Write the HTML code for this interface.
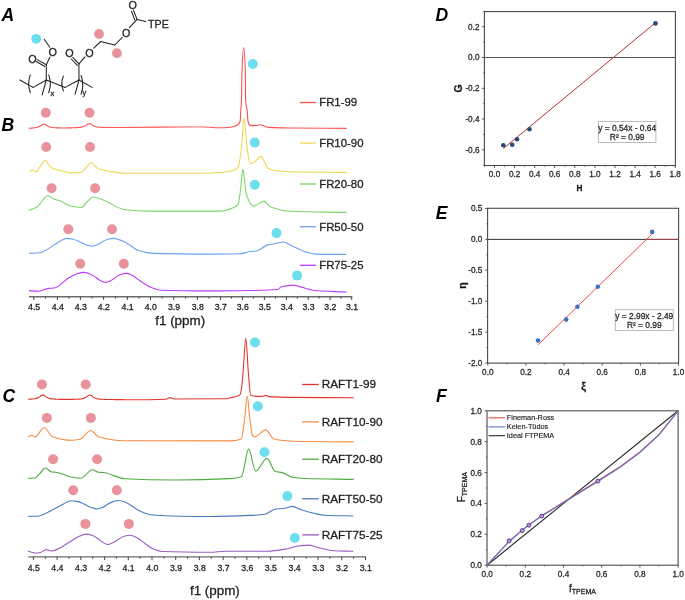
<!DOCTYPE html>
<html><head><meta charset="utf-8"><style>
html,body{margin:0;padding:0;background:#fff;width:685px;height:600px;overflow:hidden}
svg{display:block;will-change:transform}
text{font-family:"Liberation Sans", sans-serif;stroke:#222;stroke-width:0.28px}
text.nb{stroke:none}
</style></head><body>
<svg width="685" height="600" viewBox="0 0 685 600">
<rect width="685" height="600" fill="#fff"/>
<path d="M28.70,128.30 C29.20,128.27 29.70,128.25 30.20,128.22 C30.70,128.19 31.20,128.16 31.70,128.12 C32.20,128.08 32.70,128.04 33.20,127.99 C33.70,127.94 34.20,127.88 34.70,127.81 C35.20,127.74 35.70,127.66 36.20,127.56 C36.70,127.46 37.20,127.33 37.70,127.18 C38.20,127.03 38.70,126.84 39.20,126.61 C39.70,126.38 40.20,126.08 40.70,125.76 C41.20,125.44 41.70,124.97 42.20,124.69 C42.70,124.41 43.20,124.01 43.70,124.01 C44.20,124.01 44.70,124.21 45.20,124.40 C45.70,124.59 46.20,125.09 46.70,125.41 C47.20,125.73 47.70,126.06 48.20,126.30 C48.70,126.54 49.20,126.75 49.70,126.91 C50.20,127.07 50.70,127.19 51.20,127.29 C51.70,127.39 52.20,127.47 52.70,127.53 C53.20,127.59 53.70,127.65 54.20,127.69 C54.70,127.73 55.20,127.76 55.70,127.79 C56.20,127.82 56.70,127.84 57.20,127.86 C57.70,127.88 58.20,127.89 58.70,127.90 C59.20,127.91 59.70,127.91 60.20,127.92 C60.70,127.93 61.20,127.94 61.70,127.94 C62.20,127.94 62.70,127.94 63.20,127.94 C63.70,127.94 64.20,127.94 64.70,127.94 C65.20,127.94 65.70,127.93 66.20,127.93 C66.70,127.93 67.20,127.92 67.70,127.91 C68.20,127.90 68.70,127.89 69.20,127.88 C69.70,127.87 70.20,127.86 70.70,127.85 C71.20,127.84 71.70,127.82 72.20,127.81 C72.70,127.80 73.20,127.78 73.70,127.76 C74.20,127.74 74.70,127.72 75.20,127.70 C75.70,127.68 76.20,127.65 76.70,127.62 C77.20,127.59 77.70,127.55 78.20,127.51 C78.70,127.47 79.20,127.42 79.70,127.36 C80.20,127.30 80.70,127.23 81.20,127.15 C81.70,127.07 82.20,126.96 82.70,126.83 C83.20,126.70 83.70,126.54 84.20,126.35 C84.70,126.16 85.20,125.90 85.70,125.62 C86.20,125.34 86.70,124.94 87.20,124.62 C87.70,124.30 88.20,123.72 88.70,123.68 C89.20,123.64 89.70,123.62 90.20,123.62 C90.70,123.62 91.20,124.19 91.70,124.50 C92.20,124.81 92.70,125.21 93.20,125.49 C93.70,125.77 94.20,126.02 94.70,126.21 C95.20,126.40 95.70,126.56 96.20,126.68 C96.70,126.80 97.20,126.89 97.70,126.97 C98.20,127.05 98.70,127.12 99.20,127.17 C99.70,127.22 100.20,127.26 100.70,127.29 C101.20,127.32 101.70,127.36 102.20,127.38 C102.70,127.40 103.20,127.42 103.70,127.44 C104.20,127.46 104.70,127.47 105.20,127.48 C105.70,127.49 106.20,127.49 106.70,127.50 C107.20,127.51 107.70,127.52 108.20,127.52 C108.70,127.52 109.20,127.53 109.70,127.53 C110.20,127.53 110.70,127.54 111.20,127.54 C111.70,127.54 112.20,127.54 112.70,127.54 C113.20,127.54 113.70,127.54 114.20,127.54 C114.70,127.54 115.20,127.53 115.70,127.53 C116.20,127.53 116.70,127.53 117.20,127.53 C117.70,127.53 118.20,127.52 118.70,127.52 C120.80,127.51 122.90,127.51 125.00,127.50 C150.00,127.40 175.00,126.80 200.00,126.80 C206.67,126.80 213.33,127.80 220.00,127.80 C223.33,127.80 226.67,127.59 230.00,127.30 C232.50,127.08 235.00,126.48 237.50,125.10 C238.40,124.60 239.30,124.08 240.20,121.00 C240.40,120.32 240.60,113.22 240.80,110.00 C241.03,106.24 241.27,105.75 241.50,100.00 C241.63,96.71 241.77,78.89 241.90,75.00 C242.47,58.47 243.03,47.60 243.60,47.60 C244.20,47.60 244.80,54.42 245.40,75.00 C245.47,77.29 245.53,98.91 245.60,100.00 C246.10,108.21 246.60,105.58 247.10,110.00 C247.40,112.65 247.70,119.75 248.00,121.00 C248.60,123.49 249.20,124.97 249.80,125.10 C251.53,125.48 253.27,125.60 255.00,125.60 C256.93,125.60 258.87,124.80 260.80,124.80 C261.87,124.80 262.93,125.65 264.00,126.00 C265.67,126.54 267.33,127.30 269.00,127.40 C276.00,127.84 283.00,127.91 290.00,128.00 C308.90,128.24 327.80,128.27 346.70,128.40" fill="none" stroke="#ff5050" stroke-width="1.1" stroke-linejoin="round"/>
<path d="M29.20,171.70 C30.30,171.13 31.40,170.00 32.50,170.00 C33.60,170.00 34.70,171.70 35.80,171.70 C37.20,171.70 38.60,168.66 40.00,167.00 C41.77,164.91 43.53,160.30 45.30,160.30 C46.53,160.30 47.77,163.67 49.00,165.00 C50.17,166.26 51.33,167.74 52.50,168.30 C55.00,169.49 57.50,169.85 60.00,170.50 C63.33,171.36 66.67,172.80 70.00,172.80 C73.33,172.80 76.67,172.80 80.00,172.80 C81.67,172.80 83.33,170.45 85.00,169.00 C87.10,167.17 89.20,162.50 91.30,162.50 C92.53,162.50 93.77,164.90 95.00,166.00 C96.10,166.98 97.20,168.35 98.30,168.80 C102.20,170.38 106.10,170.88 110.00,171.50 C115.00,172.30 120.00,173.30 125.00,173.30 C150.00,173.30 175.00,173.30 200.00,173.30 C208.33,173.30 216.67,172.80 225.00,172.00 C229.17,171.60 233.33,171.06 237.50,168.20 C237.90,167.93 238.30,166.62 238.70,165.30 C239.67,162.11 240.63,154.98 241.60,146.70 C242.37,140.13 243.13,118.10 243.90,118.10 C244.97,118.10 246.03,137.93 247.10,146.70 C247.60,150.81 248.10,156.28 248.60,158.30 C249.27,160.99 249.93,163.60 250.60,163.60 C252.07,163.60 253.53,162.38 255.00,161.50 C257.03,160.28 259.07,156.40 261.10,156.40 C262.07,156.40 263.03,159.34 264.00,161.00 C265.27,163.18 266.53,167.45 267.80,168.20 C270.20,169.62 272.60,170.17 275.00,170.50 C280.00,171.19 285.00,171.58 290.00,171.70 C308.90,172.17 327.80,172.17 346.70,172.40" fill="none" stroke="#eed850" stroke-width="1.1" stroke-linejoin="round"/>
<path d="M29.00,210.30 C31.83,209.10 34.67,208.60 37.50,206.70 C39.00,205.70 40.50,202.63 42.00,201.00 C43.83,199.01 45.67,195.80 47.50,195.80 C49.73,195.80 51.97,198.41 54.20,199.20 C56.13,199.89 58.07,200.13 60.00,200.80 C63.33,201.96 66.67,205.04 70.00,205.80 C73.90,206.69 77.80,207.50 81.70,207.50 C83.47,207.50 85.23,203.60 87.00,202.00 C89.10,200.10 91.20,197.00 93.30,197.00 C96.63,197.00 99.97,198.83 103.30,200.00 C110.53,202.54 117.77,208.91 125.00,209.70 C132.50,210.52 140.00,211.10 147.50,211.10 C171.93,211.10 196.37,211.10 220.80,211.10 C225.07,211.10 229.33,209.26 233.60,207.40 C235.10,206.75 236.60,206.31 238.10,204.30 C238.90,203.23 239.70,195.77 240.50,190.00 C241.27,184.47 242.03,169.10 242.80,169.10 C243.37,169.10 243.93,176.05 244.50,180.00 C245.10,184.19 245.70,191.90 246.30,193.80 C248.73,201.52 251.17,206.10 253.60,206.10 C257.00,206.10 260.40,201.10 263.80,201.10 C266.30,201.10 268.80,206.37 271.30,207.30 C277.53,209.61 283.77,211.04 290.00,211.30 C308.90,212.08 327.80,212.03 346.70,212.40" fill="none" stroke="#78d865" stroke-width="1.1" stroke-linejoin="round"/>
<path d="M29.10,253.40 C32.60,253.17 36.10,253.10 39.60,252.70 C44.47,252.15 49.33,247.77 54.20,244.90 C56.13,243.76 58.07,242.19 60.00,241.20 C62.20,240.07 64.40,238.40 66.60,238.40 C68.73,238.40 70.87,238.80 73.00,239.20 C75.33,239.64 77.67,241.01 80.00,242.00 C82.00,242.85 84.00,244.10 86.00,244.70 C88.07,245.32 90.13,246.10 92.20,246.10 C94.13,246.10 96.07,245.16 98.00,244.40 C99.67,243.75 101.33,242.36 103.00,241.50 C104.67,240.64 106.33,239.58 108.00,239.20 C109.77,238.80 111.53,238.40 113.30,238.40 C115.20,238.40 117.10,239.08 119.00,239.60 C121.00,240.15 123.00,241.06 125.00,242.00 C129.73,244.24 134.47,249.49 139.20,250.80 C144.07,252.15 148.93,253.26 153.80,253.40 C172.53,253.93 191.27,254.10 210.00,254.10 C220.00,254.10 230.00,254.03 240.00,253.80 C243.33,253.72 246.67,251.94 250.00,251.50 C252.43,251.18 254.87,251.19 257.30,250.80 C260.70,250.26 264.10,245.74 267.50,244.90 C270.43,244.18 273.37,244.06 276.30,243.50 C278.47,243.09 280.63,242.00 282.80,242.00 C285.97,242.00 289.13,244.63 292.30,246.00 C296.70,247.90 301.10,250.64 305.50,251.90 C308.90,252.87 312.30,254.02 315.70,254.10 C325.93,254.33 336.17,254.30 346.40,254.40" fill="none" stroke="#6aa3f5" stroke-width="1.1" stroke-linejoin="round"/>
<path d="M29.00,290.60 C32.30,290.80 35.60,291.20 38.90,291.20 C42.07,291.20 45.23,288.74 48.40,288.40 C50.33,288.19 52.27,288.22 54.20,288.00 C59.07,287.45 63.93,280.58 68.80,277.80 C71.20,276.43 73.60,274.99 76.00,274.20 C78.47,273.39 80.93,272.40 83.40,272.40 C85.60,272.40 87.80,273.24 90.00,274.00 C92.00,274.69 94.00,276.22 96.00,277.50 C97.67,278.56 99.33,280.33 101.00,281.00 C102.67,281.67 104.33,282.40 106.00,282.40 C107.67,282.40 109.33,281.40 111.00,280.60 C112.67,279.80 114.33,278.03 116.00,277.00 C117.67,275.97 119.33,274.74 121.00,274.30 C122.70,273.85 124.40,273.40 126.10,273.40 C128.07,273.40 130.03,274.38 132.00,275.20 C134.33,276.17 136.67,278.48 139.00,280.00 C142.97,282.58 146.93,285.77 150.90,287.30 C154.30,288.61 157.70,290.08 161.10,290.20 C177.40,290.75 193.70,290.90 210.00,290.90 C223.33,290.90 236.67,290.72 250.00,290.50 C259.23,290.35 268.47,290.33 277.70,289.50 C278.93,289.39 280.17,287.12 281.40,286.80 C285.53,285.71 289.67,285.10 293.80,285.10 C295.27,285.10 296.73,285.74 298.20,286.10 C303.07,287.30 307.93,289.70 312.80,290.20 C324.00,291.36 335.20,291.47 346.40,292.10" fill="none" stroke="#bb3cff" stroke-width="1.1" stroke-linejoin="round"/>
<path d="M28.00,399.29 C28.50,399.27 29.00,399.24 29.50,399.22 C30.00,399.20 30.50,399.17 31.00,399.14 C31.50,399.11 32.00,399.06 32.50,399.01 C33.00,398.96 33.50,398.90 34.00,398.83 C34.50,398.76 35.00,398.67 35.50,398.56 C36.00,398.45 36.50,398.31 37.00,398.14 C37.50,397.97 38.00,397.74 38.50,397.47 C39.00,397.20 39.50,396.82 40.00,396.46 C40.50,396.10 41.00,395.50 41.50,395.31 C42.00,395.12 42.50,394.92 43.00,394.92 C43.50,394.92 44.00,395.43 44.50,395.75 C45.00,396.07 45.50,396.58 46.00,396.91 C46.50,397.24 47.00,397.54 47.50,397.77 C48.00,398.00 48.50,398.19 49.00,398.33 C49.50,398.47 50.00,398.59 50.50,398.68 C51.00,398.77 51.50,398.85 52.00,398.91 C52.50,398.97 53.00,399.02 53.50,399.06 C54.00,399.10 54.50,399.14 55.00,399.17 C55.50,399.20 56.00,399.22 56.50,399.24 C57.00,399.26 57.50,399.28 58.00,399.29 C58.50,399.30 59.00,399.32 59.50,399.33 C60.00,399.34 60.50,399.35 61.00,399.36 C61.50,399.37 62.00,399.37 62.50,399.38 C63.00,399.39 63.50,399.40 64.00,399.40 C64.50,399.40 65.00,399.40 65.50,399.40 C66.00,399.40 66.50,399.40 67.00,399.40 C67.50,399.40 68.00,399.40 68.50,399.40 C69.00,399.40 69.50,399.39 70.00,399.39 C70.50,399.39 71.00,399.38 71.50,399.37 C72.00,399.36 72.50,399.36 73.00,399.35 C73.50,399.34 74.00,399.32 74.50,399.31 C75.00,399.30 75.50,399.28 76.00,399.26 C76.50,399.24 77.00,399.22 77.50,399.19 C78.00,399.16 78.50,399.13 79.00,399.09 C79.50,399.05 80.00,399.00 80.50,398.94 C81.00,398.88 81.50,398.80 82.00,398.71 C82.50,398.62 83.00,398.50 83.50,398.36 C84.00,398.22 84.50,398.03 85.00,397.81 C85.50,397.59 86.00,397.27 86.50,396.94 C87.00,396.61 87.50,396.10 88.00,395.80 C88.50,395.50 89.00,395.05 89.50,395.05 C90.00,395.05 90.50,395.30 91.00,395.52 C91.50,395.74 92.00,396.31 92.50,396.66 C93.00,397.01 93.50,397.37 94.00,397.63 C94.50,397.89 95.00,398.11 95.50,398.27 C96.00,398.43 96.50,398.56 97.00,398.67 C97.50,398.78 98.00,398.86 98.50,398.93 C99.00,399.00 99.50,399.06 100.00,399.11 C100.50,399.16 101.00,399.20 101.50,399.23 C102.00,399.26 102.50,399.30 103.00,399.32 C103.50,399.34 104.00,399.36 104.50,399.38 C105.00,399.40 105.50,399.42 106.00,399.43 C106.50,399.44 107.00,399.46 107.50,399.47 C108.00,399.48 108.50,399.49 109.00,399.50 C109.50,399.51 110.00,399.52 110.50,399.53 C111.00,399.54 111.50,399.54 112.00,399.55 C112.50,399.56 113.00,399.57 113.50,399.57 C114.00,399.57 114.50,399.58 115.00,399.58 C115.50,399.58 116.00,399.59 116.50,399.59 C117.00,399.59 117.50,399.60 118.00,399.60 C118.50,399.60 119.00,399.61 119.50,399.61 C121.33,399.63 123.17,399.70 125.00,399.70 C138.67,399.70 152.33,399.64 166.00,399.20 C167.33,399.16 168.67,397.60 170.00,397.60 C171.33,397.60 172.67,399.00 174.00,399.00 C191.00,399.00 208.00,398.97 225.00,398.80 C227.33,398.78 229.67,397.91 232.00,397.40 C233.67,397.03 235.33,396.79 237.00,396.20 C238.07,395.82 239.13,395.54 240.20,394.30 C240.67,393.76 241.13,390.94 241.60,388.00 C242.10,384.85 242.60,377.72 243.10,372.00 C244.00,361.71 244.90,338.20 245.80,338.20 C246.63,338.20 247.47,362.59 248.30,372.00 C249.10,381.03 249.90,395.02 250.70,395.30 C253.13,396.16 255.57,396.40 258.00,396.40 C259.67,396.40 261.33,396.32 263.00,396.20 C264.00,396.13 265.00,395.40 266.00,395.40 C267.00,395.40 268.00,396.53 269.00,396.60 C277.67,397.24 286.33,397.32 295.00,397.40 C314.57,397.59 334.13,397.60 353.70,397.70" fill="none" stroke="#e0362e" stroke-width="1.1" stroke-linejoin="round"/>
<path d="M28.00,436.70 C29.23,436.23 30.47,435.30 31.70,435.30 C32.80,435.30 33.90,437.00 35.00,437.00 C38.07,437.00 41.13,427.80 44.20,427.80 C46.97,427.80 49.73,435.73 52.50,436.70 C58.90,438.95 65.30,440.30 71.70,440.30 C74.47,440.30 77.23,439.81 80.00,439.20 C83.60,438.41 87.20,430.50 90.80,430.50 C93.30,430.50 95.80,435.96 98.30,436.70 C107.20,439.35 116.10,440.78 125.00,440.80 C160.00,440.88 195.00,440.90 230.00,440.90 C233.77,440.90 237.53,440.49 241.30,439.00 C242.37,438.58 243.43,427.62 244.50,420.00 C245.40,413.57 246.30,396.10 247.20,396.10 C248.13,396.10 249.07,413.16 250.00,420.00 C250.80,425.86 251.60,434.76 252.40,435.50 C253.20,436.24 254.00,436.70 254.80,436.70 C258.40,436.70 262.00,429.90 265.60,429.90 C268.40,429.90 271.20,438.37 274.00,439.00 C281.00,440.58 288.00,441.15 295.00,441.30 C314.57,441.72 334.13,441.70 353.70,441.90" fill="none" stroke="#f48c45" stroke-width="1.1" stroke-linejoin="round"/>
<path d="M28.00,478.30 C30.33,478.20 32.67,478.20 35.00,478.00 C36.67,477.86 38.33,474.91 40.00,473.30 C41.77,471.59 43.53,468.00 45.30,468.00 C47.43,468.00 49.57,471.82 51.70,472.00 C53.07,472.12 54.43,472.10 55.80,472.20 C60.53,472.55 65.27,475.76 70.00,476.70 C73.60,477.42 77.20,478.30 80.80,478.30 C84.70,478.30 88.60,469.70 92.50,469.70 C94.43,469.70 96.37,472.00 98.30,472.20 C99.97,472.37 101.63,472.35 103.30,472.50 C110.53,473.13 117.77,478.44 125.00,478.80 C141.67,479.63 158.33,480.00 175.00,480.00 C193.33,480.00 211.67,479.56 230.00,478.60 C233.80,478.40 237.60,478.00 241.40,476.70 C243.83,475.87 246.27,448.90 248.70,448.90 C251.00,448.90 253.30,471.10 255.60,471.10 C259.40,471.10 263.20,458.40 267.00,458.40 C269.73,458.40 272.47,470.73 275.20,471.50 C277.53,472.15 279.87,472.07 282.20,472.60 C285.70,473.39 289.20,476.73 292.70,477.30 C296.80,477.97 300.90,478.35 305.00,478.50 C321.23,479.08 337.47,479.10 353.70,479.40" fill="none" stroke="#4fab40" stroke-width="1.1" stroke-linejoin="round"/>
<path d="M28.00,516.30 C30.90,516.30 33.80,516.30 36.70,516.30 C42.53,516.30 48.37,511.80 54.20,509.00 C57.13,507.59 60.07,505.62 63.00,504.20 C65.67,502.91 68.33,500.70 71.00,500.70 C73.33,500.70 75.67,501.14 78.00,501.60 C80.00,501.99 82.00,503.11 84.00,504.00 C86.33,505.03 88.67,506.75 91.00,507.50 C93.10,508.17 95.20,509.00 97.30,509.00 C99.20,509.00 101.10,508.01 103.00,507.20 C104.67,506.49 106.33,504.91 108.00,504.00 C109.67,503.09 111.33,502.05 113.00,501.60 C115.00,501.06 117.00,500.50 119.00,500.50 C121.33,500.50 123.67,501.62 126.00,502.50 C130.40,504.16 134.80,508.81 139.20,510.70 C143.57,512.57 147.93,514.74 152.30,515.00 C171.53,516.13 190.77,516.50 210.00,516.50 C223.40,516.50 236.80,515.98 250.20,515.40 C255.00,515.19 259.80,514.96 264.60,514.30 C268.13,513.82 271.67,509.83 275.20,509.20 C276.57,508.96 277.93,508.85 279.30,508.70 C281.53,508.45 283.77,508.34 286.00,508.00 C288.00,507.70 290.00,506.40 292.00,506.40 C295.33,506.40 298.67,508.96 302.00,510.00 C306.00,511.25 310.00,512.41 314.00,513.30 C317.57,514.09 321.13,515.13 324.70,515.30 C334.23,515.77 343.77,515.77 353.30,516.00" fill="none" stroke="#4a7cc0" stroke-width="1.1" stroke-linejoin="round"/>
<path d="M28.00,551.30 C30.67,551.93 33.33,553.20 36.00,553.20 C37.43,553.20 38.87,552.84 40.30,552.50 C42.27,552.03 44.23,549.60 46.20,549.60 C47.90,549.60 49.60,551.00 51.30,551.00 C57.13,551.00 62.97,545.84 68.80,542.60 C71.53,541.08 74.27,538.65 77.00,537.40 C80.10,535.98 83.20,534.10 86.30,534.10 C88.20,534.10 90.10,534.65 92.00,535.20 C93.67,535.68 95.33,536.93 97.00,538.00 C98.67,539.07 100.33,540.80 102.00,541.80 C103.83,542.90 105.67,544.50 107.50,544.50 C109.33,544.50 111.17,543.40 113.00,542.60 C115.00,541.73 117.00,540.14 119.00,539.00 C120.67,538.05 122.33,536.74 124.00,536.30 C126.13,535.73 128.27,535.20 130.40,535.20 C132.60,535.20 134.80,536.69 137.00,537.80 C139.67,539.14 142.33,541.62 145.00,543.50 C147.43,545.22 149.87,547.60 152.30,548.60 C155.73,550.01 159.17,551.36 162.60,551.50 C178.40,552.12 194.20,552.30 210.00,552.30 C215.07,552.30 220.13,551.20 225.20,551.20 C239.23,551.20 253.27,551.20 267.30,551.20 C273.97,551.20 280.63,549.85 287.30,548.70 C290.87,548.08 294.43,546.43 298.00,546.00 C301.77,545.54 305.53,545.10 309.30,545.10 C311.30,545.10 313.30,546.22 315.30,546.70 C321.53,548.21 327.77,550.36 334.00,550.70 C340.43,551.05 346.87,551.10 353.30,551.30" fill="none" stroke="#9a5cbf" stroke-width="1.1" stroke-linejoin="round"/>
<circle cx="45.8" cy="112.7" r="5.0" fill="#e8929b"/>
<circle cx="89.5" cy="112.7" r="5.0" fill="#e8929b"/>
<circle cx="46.2" cy="147.0" r="5.0" fill="#e8929b"/>
<circle cx="90.0" cy="147.0" r="5.0" fill="#e8929b"/>
<circle cx="51.6" cy="188.2" r="5.0" fill="#e8929b"/>
<circle cx="95.1" cy="188.2" r="5.0" fill="#e8929b"/>
<circle cx="68.3" cy="229.3" r="5.0" fill="#e8929b"/>
<circle cx="112.0" cy="229.3" r="5.0" fill="#e8929b"/>
<circle cx="80.2" cy="263.8" r="5.0" fill="#e8929b"/>
<circle cx="123.8" cy="263.8" r="5.0" fill="#e8929b"/>
<circle cx="252.8" cy="64.0" r="5.0" fill="#6ddfec"/>
<circle cx="254.8" cy="142.6" r="5.0" fill="#6ddfec"/>
<circle cx="254.8" cy="184.8" r="5.0" fill="#6ddfec"/>
<circle cx="276.5" cy="233.1" r="5.0" fill="#6ddfec"/>
<circle cx="297.1" cy="275.6" r="5.0" fill="#6ddfec"/>
<circle cx="41.9" cy="384.5" r="5.0" fill="#e8929b"/>
<circle cx="85.7" cy="384.5" r="5.0" fill="#e8929b"/>
<circle cx="46.9" cy="417.9" r="5.0" fill="#e8929b"/>
<circle cx="90.8" cy="417.9" r="5.0" fill="#e8929b"/>
<circle cx="53.1" cy="459.3" r="5.0" fill="#e8929b"/>
<circle cx="97.1" cy="459.3" r="5.0" fill="#e8929b"/>
<circle cx="73.2" cy="490.3" r="5.0" fill="#e8929b"/>
<circle cx="116.8" cy="490.3" r="5.0" fill="#e8929b"/>
<circle cx="85.4" cy="523.9" r="5.0" fill="#e8929b"/>
<circle cx="128.9" cy="523.9" r="5.0" fill="#e8929b"/>
<circle cx="255.0" cy="342.4" r="5.0" fill="#6ddfec"/>
<circle cx="257.8" cy="406.3" r="5.0" fill="#6ddfec"/>
<circle cx="264.5" cy="452.3" r="5.0" fill="#6ddfec"/>
<circle cx="287.4" cy="496.1" r="5.0" fill="#6ddfec"/>
<circle cx="294.8" cy="538.0" r="5.0" fill="#6ddfec"/>
<line x1="300" y1="102.5" x2="316" y2="102.5" stroke="#ff5050" stroke-width="1.3"/>
<text x="319.2" y="106.4" font-size="11.4" fill="#1a1a1a">FR1-99</text>
<line x1="300" y1="143.1" x2="316" y2="143.1" stroke="#eed850" stroke-width="1.3"/>
<text x="319.2" y="147.0" font-size="11.4" fill="#1a1a1a">FR10-90</text>
<line x1="300" y1="184.0" x2="316" y2="184.0" stroke="#78d865" stroke-width="1.3"/>
<text x="319.2" y="187.9" font-size="11.4" fill="#1a1a1a">FR20-80</text>
<line x1="300" y1="226.7" x2="316" y2="226.7" stroke="#6aa3f5" stroke-width="1.3"/>
<text x="319.2" y="230.6" font-size="11.4" fill="#1a1a1a">FR50-50</text>
<line x1="300" y1="265.3" x2="316" y2="265.3" stroke="#bb3cff" stroke-width="1.3"/>
<text x="319.2" y="269.2" font-size="11.4" fill="#1a1a1a">FR75-25</text>
<line x1="302.2" y1="384.5" x2="318.8" y2="384.5" stroke="#e0362e" stroke-width="1.3"/>
<text x="321.8" y="388.2" font-size="11.75" fill="#1a1a1a">RAFT1-99</text>
<line x1="302.2" y1="421.9" x2="318.8" y2="421.9" stroke="#f48c45" stroke-width="1.3"/>
<text x="321.8" y="425.6" font-size="11.75" fill="#1a1a1a">RAFT10-90</text>
<line x1="302.2" y1="459.2" x2="318.8" y2="459.2" stroke="#4fab40" stroke-width="1.3"/>
<text x="321.8" y="462.9" font-size="11.75" fill="#1a1a1a">RAFT20-80</text>
<line x1="302.2" y1="498.8" x2="318.8" y2="498.8" stroke="#4a7cc0" stroke-width="1.3"/>
<text x="321.8" y="502.5" font-size="11.75" fill="#1a1a1a">RAFT50-50</text>
<line x1="302.2" y1="534.9" x2="318.8" y2="534.9" stroke="#9a5cbf" stroke-width="1.3"/>
<text x="321.8" y="538.6" font-size="11.75" fill="#1a1a1a">RAFT75-25</text>
<line x1="29.0" y1="296.8" x2="352.3" y2="296.8" stroke="#6a6a6a" stroke-width="1.4"/>
<line x1="33.8" y1="296.8" x2="33.8" y2="300.0" stroke="#333" stroke-width="0.9"/>
<text x="34.1" y="309.9" font-size="8.7" fill="#222" text-anchor="middle">4.5</text>
<line x1="45.6" y1="296.8" x2="45.6" y2="298.6" stroke="#333" stroke-width="0.9"/>
<line x1="57.4" y1="296.8" x2="57.4" y2="300.0" stroke="#333" stroke-width="0.9"/>
<text x="57.7" y="309.9" font-size="8.7" fill="#222" text-anchor="middle">4.4</text>
<line x1="68.9" y1="296.8" x2="68.9" y2="298.6" stroke="#333" stroke-width="0.9"/>
<line x1="80.4" y1="296.8" x2="80.4" y2="300.0" stroke="#333" stroke-width="0.9"/>
<text x="80.7" y="309.9" font-size="8.7" fill="#222" text-anchor="middle">4.3</text>
<line x1="92.0" y1="296.8" x2="92.0" y2="298.6" stroke="#333" stroke-width="0.9"/>
<line x1="103.6" y1="296.8" x2="103.6" y2="300.0" stroke="#333" stroke-width="0.9"/>
<text x="103.9" y="309.9" font-size="8.7" fill="#222" text-anchor="middle">4.2</text>
<line x1="115.4" y1="296.8" x2="115.4" y2="298.6" stroke="#333" stroke-width="0.9"/>
<line x1="127.3" y1="296.8" x2="127.3" y2="300.0" stroke="#333" stroke-width="0.9"/>
<text x="127.6" y="309.9" font-size="8.7" fill="#222" text-anchor="middle">4.1</text>
<line x1="138.9" y1="296.8" x2="138.9" y2="298.6" stroke="#333" stroke-width="0.9"/>
<line x1="150.5" y1="296.8" x2="150.5" y2="300.0" stroke="#333" stroke-width="0.9"/>
<text x="150.8" y="309.9" font-size="8.7" fill="#222" text-anchor="middle">4.0</text>
<line x1="162.1" y1="296.8" x2="162.1" y2="298.6" stroke="#333" stroke-width="0.9"/>
<line x1="173.7" y1="296.8" x2="173.7" y2="300.0" stroke="#333" stroke-width="0.9"/>
<text x="174.0" y="309.9" font-size="8.7" fill="#222" text-anchor="middle">3.9</text>
<line x1="185.6" y1="296.8" x2="185.6" y2="298.6" stroke="#333" stroke-width="0.9"/>
<line x1="197.4" y1="296.8" x2="197.4" y2="300.0" stroke="#333" stroke-width="0.9"/>
<text x="197.7" y="309.9" font-size="8.7" fill="#222" text-anchor="middle">3.8</text>
<line x1="208.9" y1="296.8" x2="208.9" y2="298.6" stroke="#333" stroke-width="0.9"/>
<line x1="220.5" y1="296.8" x2="220.5" y2="300.0" stroke="#333" stroke-width="0.9"/>
<text x="220.8" y="309.9" font-size="8.7" fill="#222" text-anchor="middle">3.7</text>
<line x1="231.4" y1="296.8" x2="231.4" y2="298.6" stroke="#333" stroke-width="0.9"/>
<line x1="242.4" y1="296.8" x2="242.4" y2="300.0" stroke="#333" stroke-width="0.9"/>
<text x="242.7" y="309.9" font-size="8.7" fill="#222" text-anchor="middle">3.6</text>
<line x1="253.4" y1="296.8" x2="253.4" y2="298.6" stroke="#333" stroke-width="0.9"/>
<line x1="264.4" y1="296.8" x2="264.4" y2="300.0" stroke="#333" stroke-width="0.9"/>
<text x="264.7" y="309.9" font-size="8.7" fill="#222" text-anchor="middle">3.5</text>
<line x1="275.4" y1="296.8" x2="275.4" y2="298.6" stroke="#333" stroke-width="0.9"/>
<line x1="286.4" y1="296.8" x2="286.4" y2="300.0" stroke="#333" stroke-width="0.9"/>
<text x="286.7" y="309.9" font-size="8.7" fill="#222" text-anchor="middle">3.4</text>
<line x1="297.3" y1="296.8" x2="297.3" y2="298.6" stroke="#333" stroke-width="0.9"/>
<line x1="308.2" y1="296.8" x2="308.2" y2="300.0" stroke="#333" stroke-width="0.9"/>
<text x="308.5" y="309.9" font-size="8.7" fill="#222" text-anchor="middle">3.3</text>
<line x1="319.1" y1="296.8" x2="319.1" y2="298.6" stroke="#333" stroke-width="0.9"/>
<line x1="330.1" y1="296.8" x2="330.1" y2="300.0" stroke="#333" stroke-width="0.9"/>
<text x="330.4" y="309.9" font-size="8.7" fill="#222" text-anchor="middle">3.2</text>
<line x1="340.9" y1="296.8" x2="340.9" y2="298.6" stroke="#333" stroke-width="0.9"/>
<line x1="351.7" y1="296.8" x2="351.7" y2="300.0" stroke="#333" stroke-width="0.9"/>
<text x="352.0" y="309.9" font-size="8.7" fill="#222" text-anchor="middle">3.1</text>
<line x1="28.2" y1="556.9" x2="366.1" y2="556.9" stroke="#6a6a6a" stroke-width="1.4"/>
<line x1="33.4" y1="556.9" x2="33.4" y2="560.1" stroke="#333" stroke-width="0.9"/>
<text x="33.7" y="571.1" font-size="8.7" fill="#222" text-anchor="middle">4.5</text>
<line x1="45.3" y1="556.9" x2="45.3" y2="558.7" stroke="#333" stroke-width="0.9"/>
<line x1="57.1" y1="556.9" x2="57.1" y2="560.1" stroke="#333" stroke-width="0.9"/>
<text x="57.4" y="571.1" font-size="8.7" fill="#222" text-anchor="middle">4.4</text>
<line x1="69.0" y1="556.9" x2="69.0" y2="558.7" stroke="#333" stroke-width="0.9"/>
<line x1="80.8" y1="556.9" x2="80.8" y2="560.1" stroke="#333" stroke-width="0.9"/>
<text x="81.1" y="571.1" font-size="8.7" fill="#222" text-anchor="middle">4.3</text>
<line x1="92.7" y1="556.9" x2="92.7" y2="558.7" stroke="#333" stroke-width="0.9"/>
<line x1="104.6" y1="556.9" x2="104.6" y2="560.1" stroke="#333" stroke-width="0.9"/>
<text x="104.9" y="571.1" font-size="8.7" fill="#222" text-anchor="middle">4.2</text>
<line x1="116.4" y1="556.9" x2="116.4" y2="558.7" stroke="#333" stroke-width="0.9"/>
<line x1="128.3" y1="556.9" x2="128.3" y2="560.1" stroke="#333" stroke-width="0.9"/>
<text x="128.6" y="571.1" font-size="8.7" fill="#222" text-anchor="middle">4.1</text>
<line x1="140.1" y1="556.9" x2="140.1" y2="558.7" stroke="#333" stroke-width="0.9"/>
<line x1="152.0" y1="556.9" x2="152.0" y2="560.1" stroke="#333" stroke-width="0.9"/>
<text x="152.3" y="571.1" font-size="8.7" fill="#222" text-anchor="middle">4.0</text>
<line x1="163.9" y1="556.9" x2="163.9" y2="558.7" stroke="#333" stroke-width="0.9"/>
<line x1="175.7" y1="556.9" x2="175.7" y2="560.1" stroke="#333" stroke-width="0.9"/>
<text x="176.0" y="571.1" font-size="8.7" fill="#222" text-anchor="middle">3.9</text>
<line x1="187.6" y1="556.9" x2="187.6" y2="558.7" stroke="#333" stroke-width="0.9"/>
<line x1="199.4" y1="556.9" x2="199.4" y2="560.1" stroke="#333" stroke-width="0.9"/>
<text x="199.7" y="571.1" font-size="8.7" fill="#222" text-anchor="middle">3.8</text>
<line x1="211.3" y1="556.9" x2="211.3" y2="558.7" stroke="#333" stroke-width="0.9"/>
<line x1="223.2" y1="556.9" x2="223.2" y2="560.1" stroke="#333" stroke-width="0.9"/>
<text x="223.5" y="571.1" font-size="8.7" fill="#222" text-anchor="middle">3.7</text>
<line x1="235.0" y1="556.9" x2="235.0" y2="558.7" stroke="#333" stroke-width="0.9"/>
<line x1="246.9" y1="556.9" x2="246.9" y2="560.1" stroke="#333" stroke-width="0.9"/>
<text x="247.2" y="571.1" font-size="8.7" fill="#222" text-anchor="middle">3.6</text>
<line x1="258.7" y1="556.9" x2="258.7" y2="558.7" stroke="#333" stroke-width="0.9"/>
<line x1="270.6" y1="556.9" x2="270.6" y2="560.1" stroke="#333" stroke-width="0.9"/>
<text x="270.9" y="571.1" font-size="8.7" fill="#222" text-anchor="middle">3.5</text>
<line x1="282.5" y1="556.9" x2="282.5" y2="558.7" stroke="#333" stroke-width="0.9"/>
<line x1="294.3" y1="556.9" x2="294.3" y2="560.1" stroke="#333" stroke-width="0.9"/>
<text x="294.6" y="571.1" font-size="8.7" fill="#222" text-anchor="middle">3.4</text>
<line x1="306.2" y1="556.9" x2="306.2" y2="558.7" stroke="#333" stroke-width="0.9"/>
<line x1="318.0" y1="556.9" x2="318.0" y2="560.1" stroke="#333" stroke-width="0.9"/>
<text x="318.3" y="571.1" font-size="8.7" fill="#222" text-anchor="middle">3.3</text>
<line x1="329.9" y1="556.9" x2="329.9" y2="558.7" stroke="#333" stroke-width="0.9"/>
<line x1="341.8" y1="556.9" x2="341.8" y2="560.1" stroke="#333" stroke-width="0.9"/>
<text x="342.1" y="571.1" font-size="8.7" fill="#222" text-anchor="middle">3.2</text>
<line x1="353.6" y1="556.9" x2="353.6" y2="558.7" stroke="#333" stroke-width="0.9"/>
<line x1="365.5" y1="556.9" x2="365.5" y2="560.1" stroke="#333" stroke-width="0.9"/>
<text x="365.8" y="571.1" font-size="8.7" fill="#222" text-anchor="middle">3.1</text>
<text x="180.2" y="324.9" font-size="13.4" fill="#1a1a1a" text-anchor="middle">f1 (ppm)</text>
<text x="214.9" y="594.6" font-size="13.4" fill="#1a1a1a" text-anchor="middle">f1 (ppm)</text>
<text x="1.6" y="21.0" font-size="17.6" font-weight="bold" font-style="italic" fill="#000" class="nb">A</text>
<text x="1.5" y="130.5" font-size="17.6" font-weight="bold" font-style="italic" fill="#000" class="nb">B</text>
<text x="2.5" y="402.0" font-size="17.6" font-weight="bold" font-style="italic" fill="#000" class="nb">C</text>
<text x="435.6" y="20.9" font-size="17.6" font-weight="bold" font-style="italic" fill="#000" class="nb">D</text>
<text x="435.8" y="218.8" font-size="17.6" font-weight="bold" font-style="italic" fill="#000" class="nb">E</text>
<text x="436.0" y="402.2" font-size="17.8" font-weight="bold" font-style="italic" fill="#000" class="nb">F</text>
<line x1="19.9" y1="80.0" x2="33.1" y2="87.4" stroke="#222" stroke-width="1.05" fill="none" stroke-linecap="round"/>
<line x1="33.1" y1="87.4" x2="46.3" y2="80.0" stroke="#222" stroke-width="1.05" fill="none" stroke-linecap="round"/>
<line x1="46.3" y1="80.0" x2="65.2" y2="87.4" stroke="#222" stroke-width="1.05" fill="none" stroke-linecap="round"/>
<line x1="65.2" y1="87.4" x2="79.0" y2="80.0" stroke="#222" stroke-width="1.05" fill="none" stroke-linecap="round"/>
<line x1="79.0" y1="80.0" x2="92.1" y2="87.4" stroke="#222" stroke-width="1.05" fill="none" stroke-linecap="round"/>
<line x1="46.3" y1="80.0" x2="42.1" y2="94.8" stroke="#222" stroke-width="1.05" fill="none" stroke-linecap="round"/>
<line x1="79.0" y1="80.0" x2="75.1" y2="94.2" stroke="#222" stroke-width="1.05" fill="none" stroke-linecap="round"/>
<line x1="46.3" y1="80.0" x2="46.3" y2="64.7" stroke="#222" stroke-width="1.05" fill="none" stroke-linecap="round"/>
<line x1="79.0" y1="80.0" x2="78.9" y2="63.9" stroke="#222" stroke-width="1.05" fill="none" stroke-linecap="round"/>
<line x1="46.3" y1="64.7" x2="50.0" y2="57.1" stroke="#222" stroke-width="1.05" fill="none" stroke-linecap="round"/>
<line x1="44.2" y1="39.2" x2="49.8" y2="47.2" stroke="#222" stroke-width="1.05" fill="none" stroke-linecap="round"/>
<line x1="46.3" y1="64.7" x2="37.2" y2="59.6" stroke="#222" stroke-width="1.05" fill="none" stroke-linecap="round"/>
<line x1="78.9" y1="63.9" x2="85.0" y2="56.8" stroke="#222" stroke-width="1.05" fill="none" stroke-linecap="round"/>
<line x1="93.7" y1="48.1" x2="100.7" y2="41.5" stroke="#222" stroke-width="1.05" fill="none" stroke-linecap="round"/>
<line x1="100.7" y1="41.5" x2="114.7" y2="45.0" stroke="#222" stroke-width="1.05" fill="none" stroke-linecap="round"/>
<line x1="114.7" y1="45.0" x2="122.3" y2="37.4" stroke="#222" stroke-width="1.05" fill="none" stroke-linecap="round"/>
<line x1="78.9" y1="63.9" x2="72.8" y2="57.3" stroke="#222" stroke-width="1.05" fill="none" stroke-linecap="round"/>
<line x1="129.4" y1="27.6" x2="137.1" y2="19.4" stroke="#222" stroke-width="1.05" fill="none" stroke-linecap="round"/>
<line x1="137.1" y1="19.4" x2="145.8" y2="21.5" stroke="#222" stroke-width="1.05" fill="none" stroke-linecap="round"/>
<line x1="137.1" y1="19.4" x2="133.5" y2="10.2" stroke="#222" stroke-width="1.05" fill="none" stroke-linecap="round"/>
<line x1="36.2" y1="61.5" x2="44.8" y2="66.5" stroke="#222" stroke-width="1.05" fill="none" stroke-linecap="round"/>
<line x1="71.3" y1="59.0" x2="77.3" y2="65.4" stroke="#222" stroke-width="1.05" fill="none" stroke-linecap="round"/>
<line x1="131.5" y1="11.2" x2="134.7" y2="19.9" stroke="#222" stroke-width="1.05" fill="none" stroke-linecap="round"/>
<path d="M30.3,74.9 Q27.0,83.8 30.3,92.8" stroke="#222" stroke-width="1.05" fill="none" stroke-linecap="round"/>
<path d="M48.7,74.9 Q52.0,83.8 48.7,92.8" stroke="#222" stroke-width="1.05" fill="none" stroke-linecap="round"/>
<path d="M63.4,76.1 Q60.1,83.5 63.4,91.0" stroke="#222" stroke-width="1.05" fill="none" stroke-linecap="round"/>
<path d="M81.1,75.5 Q84.4,84.8 81.1,94.2" stroke="#222" stroke-width="1.05" fill="none" stroke-linecap="round"/>
<text x="50.6" y="95.6" font-size="7.5" fill="#2a2a2a">x</text>
<text x="82.6" y="95" font-size="7.5" fill="#2a2a2a">y</text>
<text x="52.6" y="55.6" font-size="10.8" fill="#222" text-anchor="middle">O</text>
<text x="32.5" y="62.6" font-size="10.8" fill="#222" text-anchor="middle">O</text>
<text x="69.4" y="56.7" font-size="10.8" fill="#222" text-anchor="middle">O</text>
<text x="89.4" y="56.5" font-size="10.8" fill="#222" text-anchor="middle">O</text>
<text x="126.2" y="37.4" font-size="10.8" fill="#222" text-anchor="middle">O</text>
<text x="132.7" y="8.9" font-size="10.8" fill="#222" text-anchor="middle">O</text>
<text x="148" y="27.6" font-size="10.7" fill="#2a2a2a">TPE</text>
<circle cx="36.2" cy="38.8" r="4.9" fill="#6ddfec"/>
<circle cx="99.0" cy="34.0" r="4.9" fill="#e8929b"/>
<circle cx="116.9" cy="53.2" r="4.9" fill="#e8929b"/>
<rect x="484.4" y="11.6" width="191.0" height="153.9" fill="none" stroke="#4a4a4a" stroke-width="1.1"/>
<line x1="494.5" y1="165.5" x2="494.5" y2="168.0" stroke="#4a4a4a" stroke-width="0.9"/>
<text x="494.5" y="177.2" font-size="8.2" fill="#333" text-anchor="middle" >0.0</text>
<line x1="514.6" y1="165.5" x2="514.6" y2="168.0" stroke="#4a4a4a" stroke-width="0.9"/>
<text x="514.6" y="177.2" font-size="8.2" fill="#333" text-anchor="middle" >0.2</text>
<line x1="534.7" y1="165.5" x2="534.7" y2="168.0" stroke="#4a4a4a" stroke-width="0.9"/>
<text x="534.7" y="177.2" font-size="8.2" fill="#333" text-anchor="middle" >0.4</text>
<line x1="554.7" y1="165.5" x2="554.7" y2="168.0" stroke="#4a4a4a" stroke-width="0.9"/>
<text x="554.7" y="177.2" font-size="8.2" fill="#333" text-anchor="middle" >0.6</text>
<line x1="574.8" y1="165.5" x2="574.8" y2="168.0" stroke="#4a4a4a" stroke-width="0.9"/>
<text x="574.8" y="177.2" font-size="8.2" fill="#333" text-anchor="middle" >0.8</text>
<line x1="594.9" y1="165.5" x2="594.9" y2="168.0" stroke="#4a4a4a" stroke-width="0.9"/>
<text x="594.9" y="177.2" font-size="8.2" fill="#333" text-anchor="middle" >1.0</text>
<line x1="615.0" y1="165.5" x2="615.0" y2="168.0" stroke="#4a4a4a" stroke-width="0.9"/>
<text x="615.0" y="177.2" font-size="8.2" fill="#333" text-anchor="middle" >1.2</text>
<line x1="635.1" y1="165.5" x2="635.1" y2="168.0" stroke="#4a4a4a" stroke-width="0.9"/>
<text x="635.1" y="177.2" font-size="8.2" fill="#333" text-anchor="middle" >1.4</text>
<line x1="655.1" y1="165.5" x2="655.1" y2="168.0" stroke="#4a4a4a" stroke-width="0.9"/>
<text x="655.1" y="177.2" font-size="8.2" fill="#333" text-anchor="middle" >1.6</text>
<line x1="675.2" y1="165.5" x2="675.2" y2="168.0" stroke="#4a4a4a" stroke-width="0.9"/>
<text x="675.2" y="177.2" font-size="8.2" fill="#333" text-anchor="middle" >1.8</text>
<line x1="484.5" y1="165.5" x2="484.5" y2="166.8" stroke="#4a4a4a" stroke-width="0.8"/>
<line x1="504.5" y1="165.5" x2="504.5" y2="166.8" stroke="#4a4a4a" stroke-width="0.8"/>
<line x1="524.6" y1="165.5" x2="524.6" y2="166.8" stroke="#4a4a4a" stroke-width="0.8"/>
<line x1="544.7" y1="165.5" x2="544.7" y2="166.8" stroke="#4a4a4a" stroke-width="0.8"/>
<line x1="564.8" y1="165.5" x2="564.8" y2="166.8" stroke="#4a4a4a" stroke-width="0.8"/>
<line x1="584.9" y1="165.5" x2="584.9" y2="166.8" stroke="#4a4a4a" stroke-width="0.8"/>
<line x1="604.9" y1="165.5" x2="604.9" y2="166.8" stroke="#4a4a4a" stroke-width="0.8"/>
<line x1="625.0" y1="165.5" x2="625.0" y2="166.8" stroke="#4a4a4a" stroke-width="0.8"/>
<line x1="645.1" y1="165.5" x2="645.1" y2="166.8" stroke="#4a4a4a" stroke-width="0.8"/>
<line x1="665.2" y1="165.5" x2="665.2" y2="166.8" stroke="#4a4a4a" stroke-width="0.8"/>
<line x1="481.9" y1="26.7" x2="484.4" y2="26.7" stroke="#4a4a4a" stroke-width="0.9"/>
<text x="479.5" y="29.6" font-size="8.2" fill="#333" text-anchor="end" >0.2</text>
<line x1="481.9" y1="57.5" x2="484.4" y2="57.5" stroke="#4a4a4a" stroke-width="0.9"/>
<text x="479.5" y="60.4" font-size="8.2" fill="#333" text-anchor="end" >0.0</text>
<line x1="481.9" y1="88.3" x2="484.4" y2="88.3" stroke="#4a4a4a" stroke-width="0.9"/>
<text x="479.5" y="91.2" font-size="8.2" fill="#333" text-anchor="end" >-0.2</text>
<line x1="481.9" y1="119.0" x2="484.4" y2="119.0" stroke="#4a4a4a" stroke-width="0.9"/>
<text x="479.5" y="121.9" font-size="8.2" fill="#333" text-anchor="end" >-0.4</text>
<line x1="481.9" y1="149.8" x2="484.4" y2="149.8" stroke="#4a4a4a" stroke-width="0.9"/>
<text x="479.5" y="152.7" font-size="8.2" fill="#333" text-anchor="end" >-0.6</text>
<line x1="483.1" y1="11.4" x2="484.4" y2="11.4" stroke="#4a4a4a" stroke-width="0.8"/>
<line x1="483.1" y1="42.1" x2="484.4" y2="42.1" stroke="#4a4a4a" stroke-width="0.8"/>
<line x1="483.1" y1="72.9" x2="484.4" y2="72.9" stroke="#4a4a4a" stroke-width="0.8"/>
<line x1="483.1" y1="103.6" x2="484.4" y2="103.6" stroke="#4a4a4a" stroke-width="0.8"/>
<line x1="483.1" y1="134.4" x2="484.4" y2="134.4" stroke="#4a4a4a" stroke-width="0.8"/>
<line x1="483.1" y1="165.2" x2="484.4" y2="165.2" stroke="#4a4a4a" stroke-width="0.8"/>
<line x1="484.4" y1="57.5" x2="675.4" y2="57.5" stroke="#555" stroke-width="1.0"/>
<line x1="503.3" y1="148.6" x2="655.5" y2="22.7" stroke="#b03030" stroke-width="1.0"/>
<circle cx="503.3" cy="145.3" r="2.3" fill="#284878"/>
<circle cx="512.2" cy="144.7" r="2.3" fill="#284878"/>
<circle cx="517.0" cy="139.2" r="2.3" fill="#284878"/>
<circle cx="529.5" cy="129.2" r="2.3" fill="#284878"/>
<circle cx="655.5" cy="23.4" r="2.3" fill="#284878"/>
<rect x="598.4" y="121.5" width="57.5" height="21" fill="#fff" stroke="#b5b5b5" stroke-width="0.9"/>
<text x="627.2" y="130.5" font-size="8.4" fill="#333" text-anchor="middle" >y = 0.54x - 0.64</text>
<text x="627.2" y="140.2" font-size="8.4" fill="#333" text-anchor="middle" >R² = 0.99</text>
<text x="579.5" y="190.8" font-size="8.2" font-weight="bold" fill="#111" text-anchor="middle">H</text>
<text transform="translate(461.9,88.4) rotate(-90)" font-size="10.5" font-weight="bold" fill="#111" text-anchor="middle">G</text>
<rect x="487.6" y="208.3" width="191.0" height="154.8" fill="none" stroke="#4a4a4a" stroke-width="1.1"/>
<line x1="487.8" y1="363.1" x2="487.8" y2="365.6" stroke="#4a4a4a" stroke-width="0.9"/>
<text x="487.8" y="374.6" font-size="8.2" fill="#333" text-anchor="middle" >0.0</text>
<line x1="525.9" y1="363.1" x2="525.9" y2="365.6" stroke="#4a4a4a" stroke-width="0.9"/>
<text x="525.9" y="374.6" font-size="8.2" fill="#333" text-anchor="middle" >0.2</text>
<line x1="564.1" y1="363.1" x2="564.1" y2="365.6" stroke="#4a4a4a" stroke-width="0.9"/>
<text x="564.1" y="374.6" font-size="8.2" fill="#333" text-anchor="middle" >0.4</text>
<line x1="602.2" y1="363.1" x2="602.2" y2="365.6" stroke="#4a4a4a" stroke-width="0.9"/>
<text x="602.2" y="374.6" font-size="8.2" fill="#333" text-anchor="middle" >0.6</text>
<line x1="640.4" y1="363.1" x2="640.4" y2="365.6" stroke="#4a4a4a" stroke-width="0.9"/>
<text x="640.4" y="374.6" font-size="8.2" fill="#333" text-anchor="middle" >0.8</text>
<line x1="678.5" y1="363.1" x2="678.5" y2="365.6" stroke="#4a4a4a" stroke-width="0.9"/>
<text x="678.5" y="374.6" font-size="8.2" fill="#333" text-anchor="middle" >1.0</text>
<line x1="506.9" y1="363.1" x2="506.9" y2="364.4" stroke="#4a4a4a" stroke-width="0.8"/>
<line x1="545.0" y1="363.1" x2="545.0" y2="364.4" stroke="#4a4a4a" stroke-width="0.8"/>
<line x1="583.1" y1="363.1" x2="583.1" y2="364.4" stroke="#4a4a4a" stroke-width="0.8"/>
<line x1="621.3" y1="363.1" x2="621.3" y2="364.4" stroke="#4a4a4a" stroke-width="0.8"/>
<line x1="659.4" y1="363.1" x2="659.4" y2="364.4" stroke="#4a4a4a" stroke-width="0.8"/>
<line x1="485.1" y1="208.4" x2="487.6" y2="208.4" stroke="#4a4a4a" stroke-width="0.9"/>
<text x="482.3" y="211.3" font-size="8.2" fill="#333" text-anchor="end" >0.5</text>
<line x1="485.1" y1="239.3" x2="487.6" y2="239.3" stroke="#4a4a4a" stroke-width="0.9"/>
<text x="482.3" y="242.2" font-size="8.2" fill="#333" text-anchor="end" >0.0</text>
<line x1="485.1" y1="270.2" x2="487.6" y2="270.2" stroke="#4a4a4a" stroke-width="0.9"/>
<text x="482.3" y="273.1" font-size="8.2" fill="#333" text-anchor="end" >-0.5</text>
<line x1="485.1" y1="301.2" x2="487.6" y2="301.2" stroke="#4a4a4a" stroke-width="0.9"/>
<text x="482.3" y="304.1" font-size="8.2" fill="#333" text-anchor="end" >-1.0</text>
<line x1="485.1" y1="332.1" x2="487.6" y2="332.1" stroke="#4a4a4a" stroke-width="0.9"/>
<text x="482.3" y="335.0" font-size="8.2" fill="#333" text-anchor="end" >-1.5</text>
<line x1="485.1" y1="363.1" x2="487.6" y2="363.1" stroke="#4a4a4a" stroke-width="0.9"/>
<text x="482.3" y="366.0" font-size="8.2" fill="#333" text-anchor="end" >-2.0</text>
<line x1="486.3" y1="223.8" x2="487.6" y2="223.8" stroke="#4a4a4a" stroke-width="0.8"/>
<line x1="486.3" y1="254.8" x2="487.6" y2="254.8" stroke="#4a4a4a" stroke-width="0.8"/>
<line x1="486.3" y1="285.7" x2="487.6" y2="285.7" stroke="#4a4a4a" stroke-width="0.8"/>
<line x1="486.3" y1="316.7" x2="487.6" y2="316.7" stroke="#4a4a4a" stroke-width="0.8"/>
<line x1="486.3" y1="347.6" x2="487.6" y2="347.6" stroke="#4a4a4a" stroke-width="0.8"/>
<line x1="487.6" y1="239.4" x2="678.6" y2="239.4" stroke="#333" stroke-width="1.0"/>
<line x1="646" y1="239.4" x2="678.6" y2="239.4" stroke="#a04545" stroke-width="1.0"/>
<line x1="538.0" y1="344.8" x2="652.9" y2="233.2" stroke="#f04848" stroke-width="1.0"/>
<circle cx="538.0" cy="340.5" r="2.3" fill="#3f6fc0"/>
<circle cx="566.2" cy="319.6" r="2.3" fill="#3f6fc0"/>
<circle cx="577.4" cy="306.8" r="2.3" fill="#3f6fc0"/>
<circle cx="597.8" cy="286.7" r="2.3" fill="#3f6fc0"/>
<circle cx="652.2" cy="231.9" r="2.3" fill="#3f6fc0"/>
<rect x="615.3" y="309.7" width="58" height="20.8" fill="#fff" stroke="#b5b5b5" stroke-width="0.9"/>
<text x="644.3" y="318.6" font-size="8.4" fill="#333" text-anchor="middle" >y = 2.99x - 2.49</text>
<text x="644.3" y="328.2" font-size="8.4" fill="#333" text-anchor="middle" >R² = 0.99</text>
<text x="583.6" y="390" font-size="10.5" font-weight="bold" fill="#111" text-anchor="middle">ξ</text>
<text transform="translate(466,285.6) rotate(-90)" font-size="10.5" font-weight="bold" fill="#111" text-anchor="middle">η</text>
<rect x="487.1" y="410.8" width="191.0" height="154.4" fill="none" stroke="#4a4a4a" stroke-width="1.1"/>
<line x1="487.1" y1="410.8" x2="487.1" y2="565.2" stroke="#9a9a9a" stroke-width="1.5"/>
<line x1="487.1" y1="565.2" x2="487.1" y2="567.7" stroke="#4a4a4a" stroke-width="0.9"/>
<text x="487.1" y="576.6" font-size="8.2" fill="#333" text-anchor="middle" >0.0</text>
<line x1="484.6" y1="565.2" x2="487.1" y2="565.2" stroke="#4a4a4a" stroke-width="0.9"/>
<text x="481.9" y="568.1" font-size="8.2" fill="#333" text-anchor="end" >0.0</text>
<line x1="525.3" y1="565.2" x2="525.3" y2="567.7" stroke="#4a4a4a" stroke-width="0.9"/>
<text x="525.3" y="576.6" font-size="8.2" fill="#333" text-anchor="middle" >0.2</text>
<line x1="484.6" y1="534.3" x2="487.1" y2="534.3" stroke="#4a4a4a" stroke-width="0.9"/>
<text x="481.9" y="537.2" font-size="8.2" fill="#333" text-anchor="end" >0.2</text>
<line x1="563.5" y1="565.2" x2="563.5" y2="567.7" stroke="#4a4a4a" stroke-width="0.9"/>
<text x="563.5" y="576.6" font-size="8.2" fill="#333" text-anchor="middle" >0.4</text>
<line x1="484.6" y1="503.4" x2="487.1" y2="503.4" stroke="#4a4a4a" stroke-width="0.9"/>
<text x="481.9" y="506.3" font-size="8.2" fill="#333" text-anchor="end" >0.4</text>
<line x1="601.7" y1="565.2" x2="601.7" y2="567.7" stroke="#4a4a4a" stroke-width="0.9"/>
<text x="601.7" y="576.6" font-size="8.2" fill="#333" text-anchor="middle" >0.6</text>
<line x1="484.6" y1="472.6" x2="487.1" y2="472.6" stroke="#4a4a4a" stroke-width="0.9"/>
<text x="481.9" y="475.5" font-size="8.2" fill="#333" text-anchor="end" >0.6</text>
<line x1="639.9" y1="565.2" x2="639.9" y2="567.7" stroke="#4a4a4a" stroke-width="0.9"/>
<text x="639.9" y="576.6" font-size="8.2" fill="#333" text-anchor="middle" >0.8</text>
<line x1="484.6" y1="441.7" x2="487.1" y2="441.7" stroke="#4a4a4a" stroke-width="0.9"/>
<text x="481.9" y="444.6" font-size="8.2" fill="#333" text-anchor="end" >0.8</text>
<line x1="678.1" y1="565.2" x2="678.1" y2="567.7" stroke="#4a4a4a" stroke-width="0.9"/>
<text x="678.1" y="576.6" font-size="8.2" fill="#333" text-anchor="middle" >1.0</text>
<line x1="484.6" y1="410.8" x2="487.1" y2="410.8" stroke="#4a4a4a" stroke-width="0.9"/>
<text x="481.9" y="413.7" font-size="8.2" fill="#333" text-anchor="end" >1.0</text>
<line x1="506.2" y1="565.2" x2="506.2" y2="566.5" stroke="#4a4a4a" stroke-width="0.8"/>
<line x1="485.8" y1="549.8" x2="487.1" y2="549.8" stroke="#4a4a4a" stroke-width="0.8"/>
<line x1="544.4" y1="565.2" x2="544.4" y2="566.5" stroke="#4a4a4a" stroke-width="0.8"/>
<line x1="485.8" y1="518.9" x2="487.1" y2="518.9" stroke="#4a4a4a" stroke-width="0.8"/>
<line x1="582.6" y1="565.2" x2="582.6" y2="566.5" stroke="#4a4a4a" stroke-width="0.8"/>
<line x1="485.8" y1="488.0" x2="487.1" y2="488.0" stroke="#4a4a4a" stroke-width="0.8"/>
<line x1="620.8" y1="565.2" x2="620.8" y2="566.5" stroke="#4a4a4a" stroke-width="0.8"/>
<line x1="485.8" y1="457.1" x2="487.1" y2="457.1" stroke="#4a4a4a" stroke-width="0.8"/>
<line x1="659.0" y1="565.2" x2="659.0" y2="566.5" stroke="#4a4a4a" stroke-width="0.8"/>
<line x1="485.8" y1="426.2" x2="487.1" y2="426.2" stroke="#4a4a4a" stroke-width="0.8"/>
<line x1="487.1" y1="565.2" x2="678.1" y2="410.8" stroke="#2a2a2a" stroke-width="1.1"/>
<polyline points="487.1,565.2 509.1,541.5 522.2,530.1 528.9,524.9 541.7,515.7 597.9,480.8 620.8,466.1 639.9,451.9 659.0,434.3 678.1,410.8" fill="none" stroke="#ee4444" stroke-width="1.1"/>
<polyline points="487.1,565.2 509.1,541.5 522.2,530.2 528.9,525.1 541.7,516.0 597.9,481.5 620.8,466.8 639.9,452.7 659.0,435.0 678.1,410.8" fill="none" stroke="#5577cc" stroke-width="1.1"/>
<circle cx="509.1" cy="540.8" r="2.0" fill="#c88be8" stroke="#3a3060" stroke-width="0.8"/>
<circle cx="522.2" cy="530.6" r="2.0" fill="#c88be8" stroke="#3a3060" stroke-width="0.8"/>
<circle cx="528.9" cy="525.2" r="2.0" fill="#c88be8" stroke="#3a3060" stroke-width="0.8"/>
<circle cx="541.7" cy="516.1" r="2.0" fill="#c88be8" stroke="#3a3060" stroke-width="0.8"/>
<circle cx="597.9" cy="481.1" r="2.0" fill="#c88be8" stroke="#3a3060" stroke-width="0.8"/>
<line x1="488.5" y1="417.8" x2="505.1" y2="417.8" stroke="#ee4444" stroke-width="1.1"/>
<text x="506.8" y="420.0" font-size="7.3" fill="#222" style="stroke-width:0.15px">Fineman-Ross</text>
<line x1="488.5" y1="426.9" x2="505.1" y2="426.9" stroke="#5577cc" stroke-width="1.1"/>
<text x="506.8" y="429.1" font-size="7.3" fill="#222" style="stroke-width:0.15px">Kelen-Tüdos</text>
<line x1="488.5" y1="435.7" x2="505.1" y2="435.7" stroke="#2a2a2a" stroke-width="1.1"/>
<text x="506.8" y="437.9" font-size="7.3" fill="#222" style="stroke-width:0.15px">Ideal FTPEMA</text>
<text x="569" y="591.9" font-size="10" fill="#222">f<tspan font-size="7" dy="2">TPEMA</tspan></text>
<text transform="translate(465.3,502.3) rotate(-90)" font-size="10" fill="#222">F<tspan font-size="7" dy="2">TPEMA</tspan></text>
</svg>
</body></html>
